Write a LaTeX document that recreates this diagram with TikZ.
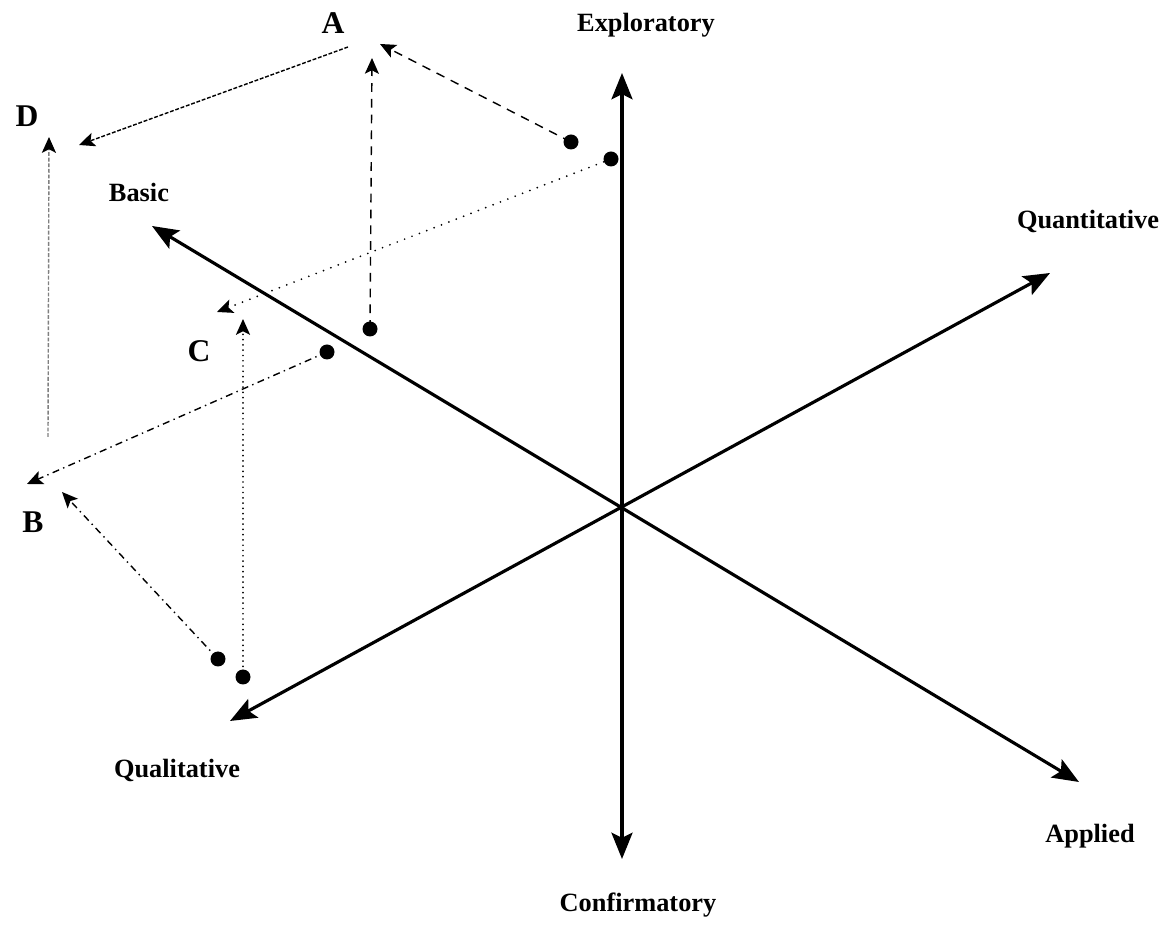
\documentclass[tikz,border=0pt]{standalone}
\usepackage{fontspec}
\setmainfont{Liberation Serif}
\usepackage{tikz}
\usetikzlibrary{arrows.meta}
\usepackage{tkz-euclide}

\begin{document}
\begin{tikzpicture}[x=0.02cm,y=-0.02cm,
    axis/.style={line width=1.8pt,{Stealth[length=15pt,width=12pt,inset=3pt]}-{Stealth[length=15pt,width=12pt,inset=3pt]}},
    trace/.style={line width=0.8pt,-{Stealth[length=9pt,width=8pt,inset=2pt,black]}},
    longdash/.style={trace,dash pattern=on 5pt off 4pt},
    finedash/.style={trace,dash pattern=on 2.2pt off 1pt},
    greydash/.style={trace,gray,dash pattern=on 2.2pt off 1pt},
    sparsedot/.style={trace,line cap=round,dash pattern=on 0pt off 4.5pt,line width=1.1pt},
    densedot/.style={trace,line cap=round,dash pattern=on 0pt off 3pt,line width=1.1pt},
    dashdot/.style={trace,dash pattern=on 4pt off 2.5pt on 0.8pt off 2.5pt},
    axislabel/.style={font=\fontsize{15}{18}\selectfont\bfseries},
    letter/.style={font=\fontsize{18}{21}\selectfont\bfseries}]
      \useasboundingbox (0,0) rectangle (1167,928);

      % 1. 三條座標軸的端點
      \tkzDefPoint(622,506){O}
      \tkzDefPoint(622,73){Expl}
      \tkzDefPoint(622,859){Conf}
      \tkzDefPoint(152,226){Basic}
      \tkzDefPoint(1079,782){Appl}
      \tkzDefPoint(230,721){Qual}
      \tkzDefPoint(1050,273){Quan}

      % 2. 畫出座標軸
      \draw[axis] (Basic) -- (Appl);
      \draw[axis] (Qual) -- (Quan);
      \draw[axis] (Expl) -- (Conf);

      % 3. 研究點（黑點）
      \tkzDefPoint(571,142){a_1}
      \tkzDefPoint(370,329){a_2}
      \tkzDefPoint(611,159){c_1}
      \tkzDefPoint(243,677){c_2}
      \tkzDefPoint(327,352){b_1}
      \tkzDefPoint(218,659){b_2}
      \foreach \p in {a_1,a_2,c_1,c_2,b_1,b_2}
        \fill (\p) circle[radius=0.15cm];

      % 4. 投影箭頭的終點
      \tkzDefPoint(380,44){A_1}
      \tkzDefPoint(372,58){A_2}
      \tkzDefPoint(348,47){d_1}
      \tkzDefPoint(79,145){D_1}
      \tkzDefPoint(48,437){d_2}
      \tkzDefPoint(49,137){D_2}
      \tkzDefPoint(217,312){C_1}
      \tkzDefPoint(243,319){C_2}
      \tkzDefPoint(27,484){B_1}
      \tkzDefPoint(62,492){B_2}

      % 5. 投影虛線
      \draw[longdash] (a_1) -- (A_1);
      \draw[longdash] (a_2) -- (A_2);
      \draw[finedash] (d_1) -- (D_1);
      \draw[greydash] (d_2) -- (D_2);
      \draw[sparsedot] (c_1) -- (C_1);
      \draw[densedot] (c_2) -- (C_2);
      \draw[dashdot] (b_1) -- (B_1);
      \draw[dashdot] (b_2) -- (B_2);

      % 6. 標籤
      \node[letter] (lA) at (333,23) {A};
      \node[letter] (lD) at (27,116) {D};
      \node[letter] (lC) at (199,351) {C};
      \node[letter] (lB) at (33,522) {B};
      \node[axislabel] (lExpl) at (646,25) {Exploratory};
      \node[axislabel] (lConf) at (638,905) {Confirmatory};
      \node[axislabel] (lBasic) at (139,192) {Basic};
      \node[axislabel] (lAppl) at (1090,836) {Applied};
      \node[axislabel] (lQuan) at (1088,221) {Quantitative};
      \node[axislabel] (lQual) at (177,770) {Qualitative};
    \end{tikzpicture}
\end{document}
